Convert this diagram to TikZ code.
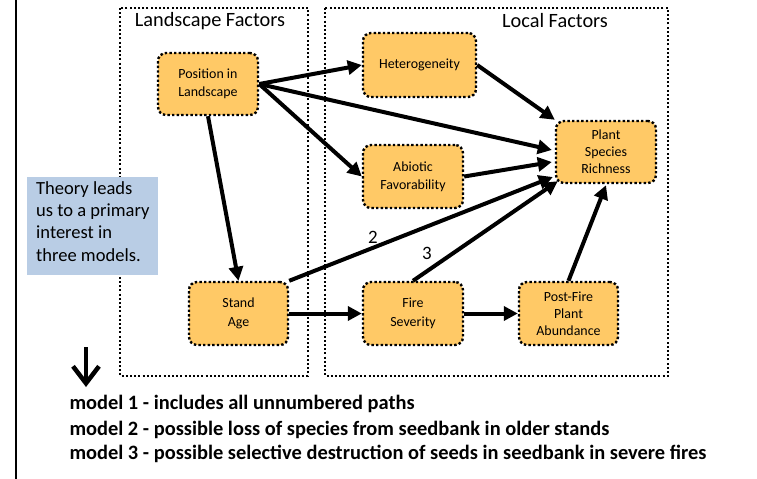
\documentclass[tikz,border=0pt]{standalone}
\usepackage{fontspec}
\setmainfont{Carlito}
\usetikzlibrary{arrows.meta,calc}
\definecolor{nodefill}{HTML}{FFC966}
\definecolor{theoryfill}{HTML}{B9CDE5}
\begin{document}
\begin{tikzpicture}[x=1bp,y=-1bp,
  factor/.style={draw=black,fill=nodefill,line width=2.4bp,dash pattern=on 2.4bp off 2.2bp,rounded corners=8bp,align=center,font=\fontsize{14}{18.5}\selectfont,inner sep=0pt},
  group/.style={draw=black,line width=2bp,dash pattern=on 2bp off 2.2bp},
  grouptitle/.style={font=\fontsize{20.4}{22}\selectfont},
  conn/.style={line width=4bp,-{Triangle[length=14bp,width=14bp]}},
  pathnum/.style={font=\fontsize{19}{20}\selectfont},
  modeltext/.style={font=\bfseries\fontsize{20.5}{22}\selectfont,anchor=base west}]
\useasboundingbox (0,0) rectangle (757,479);
% left rule
\draw[line width=2bp] (16,0) -- (16,479);
% group boxes
\draw[group] (120,8) rectangle (308,376);
\draw[group] (325,8) rectangle (668,376);
\node[grouptitle] (lt) at (210,21) {Landscape Factors};
\node[grouptitle] (lo) at (555,21) {Local Factors};
% factor nodes
\node[factor,minimum width=100bp,minimum height=62bp] (pos) at (208,84) {Position in\\Landscape};
\node[factor,minimum width=113bp,minimum height=64bp] (het) at (419.5,65) {Heterogeneity};
\node[factor,minimum width=100bp,minimum height=63bp] (abi) at (413,176.5) {Abiotic\\Favorability};
\node[factor,minimum width=100bp,minimum height=62bp,font=\fontsize{14}{17}\selectfont] (psr) at (606,152) {Plant\\Species\\Richness};
\node[factor,minimum width=99bp,minimum height=63bp] (age) at (238.5,313.5) {Stand\\Age};
\node[factor,minimum width=100bp,minimum height=63bp] (fire) at (413,313.5) {Fire\\Severity};
\node[factor,minimum width=99bp,minimum height=63bp,font=\fontsize{14}{17}\selectfont] (post) at (568.5,313.5) {Post-Fire\\Plant\\Abundance};
% connectors
\draw[conn] (pos.east) -- (het.west);
\draw[conn] (pos.east) -- ($(psr.west)+(-3,-2)$);
\draw[conn] (pos.east) -- (abi.west);
\draw[conn] (pos.south) -- (age.north);
\draw[conn] (het.east) -- (psr.north west);
\draw[conn] (abi.east) -- ($(psr.west)+(-3,10)$);
\draw[conn] (age.north east) -- ($(psr.west)+(-2,25)$);
\draw[conn] (fire.north) -- ($(psr.south west)+(3,-3)$);
\draw[conn] (age.east) -- (fire.west);
\draw[conn] (fire.east) -- (post.west);
\draw[conn] (post.north) -- ($(psr.south)+(0,1)$);
% path labels
\node[pathnum] (n2) at (373,237) {2};
\node[pathnum] (n3) at (427,253) {3};
% theory box
\node[fill=theoryfill,minimum width=131bp,minimum height=98bp,inner sep=0pt] (th) at (92.5,226) {};
\node[anchor=north west,align=left,inner sep=0pt,font=\fontsize{18.6}{22.5}\selectfont] (tht) at (36,181) {Theory leads\\us to a primary\\interest in\\three models.};
% down arrow
\coordinate (da) at (86,347);
\coordinate (db) at (86,387);
\draw[line width=4.5bp,-{Straight Barb[length=17bp,width=26bp]}] (da) -- (db);
% model text
\node[modeltext] (m1) at (66,409) {model 1 - includes all unnumbered paths};
\node[modeltext] (m2) at (66,435) {model 2 - possible loss of species from seedbank in older stands};
\node[modeltext] (m3) at (66,459) {model 3 - possible selective destruction of seeds in seedbank in severe fires};
\end{tikzpicture}
\end{document}
